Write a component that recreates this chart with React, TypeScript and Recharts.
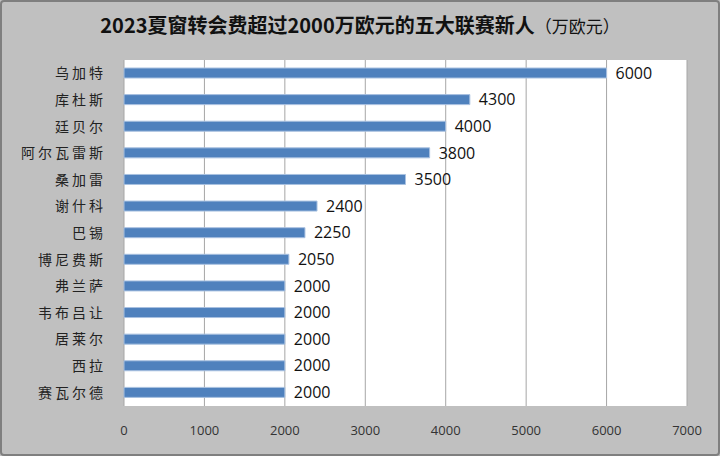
import { BarChart, Bar, XAxis, YAxis, CartesianGrid, LabelList } from "recharts";

const players = [
  "乌加特",
  "库杜斯",
  "廷贝尔",
  "阿尔瓦雷斯",
  "桑加雷",
  "谢什科",
  "巴锡",
  "博尼费斯",
  "弗兰萨",
  "韦布吕让",
  "居莱尔",
  "西拉",
  "赛瓦尔德",
];
const fees = [6000, 4300, 4000, 3800, 3500, 2400, 2250, 2050, 2000, 2000, 2000, 2000, 2000];
const xTicks = [0, 1000, 2000, 3000, 4000, 5000, 6000, 7000];

const data = players.map((name, i) => ({ name, fee: fees[i] }));

const cjk = '"Noto Sans CJK SC", sans-serif';
const num = '"Open Sans", "Liberation Sans", sans-serif';

function NameTick({ x, y, payload }: { x?: number; y?: number; payload?: { value: string } }) {
  return (
    <text
      x={(x ?? 0) - 10}
      y={y}
      dy={5}
      textAnchor="end"
      fontFamily={cjk}
      fontSize={14}
      letterSpacing={3}
      fill="#222"
    >
      {payload?.value}
    </text>
  );
}

export default function App() {
  return (
    <div style={{ position: "relative", width: 720, height: 456, background: "#C0C0C0" }}>
      <style>{"body{margin:0}"}</style>
      <div
        style={{
          position: "absolute",
          top: 0,
          left: 0,
          width: 720,
          height: 28,
          paddingTop: 11,
          textAlign: "center",
          fontFamily: cjk,
          fontWeight: 700,
          fontSize: 20,
          color: "#111",
          lineHeight: "28px",
        }}
      >
        2023夏窗转会费超过2000万欧元的五大联赛新人
        <span style={{ fontWeight: 400, fontSize: 17 }}>（万欧元）</span>
      </div>
      <BarChart
        width={720}
        height={456}
        data={data}
        layout="vertical"
        margin={{ top: 60, right: 33, bottom: 20, left: 0 }}
        barSize={10}
      >
        <CartesianGrid horizontal={false} stroke="#A6A6A6" fill="#FFFFFF" />
        <XAxis
          type="number"
          domain={[0, 7000]}
          ticks={xTicks}
          axisLine={false}
          tickLine={false}
          tickMargin={14}
          height={30}
          tick={{ fontFamily: num, fontSize: 13, fill: "#333" }}
        />
        <YAxis
          type="category"
          dataKey="name"
          width={124}
          axisLine={false}
          tickLine={false}
          tick={<NameTick />}
        />
        <Bar dataKey="fee" fill="#4F81BD" stroke="#A9C1E0" strokeWidth={1} isAnimationActive={false}>
          <LabelList
            dataKey="fee"
            position="right"
            offset={9}
            style={{ fontFamily: num, fontSize: 16, fill: "#111" }}
          />
        </Bar>
      </BarChart>
      <div
        style={{
          position: "absolute",
          inset: 0,
          border: "2px solid #7F7F7F",
          borderRadius: 4,
          pointerEvents: "none",
        }}
      />
    </div>
  );
}
